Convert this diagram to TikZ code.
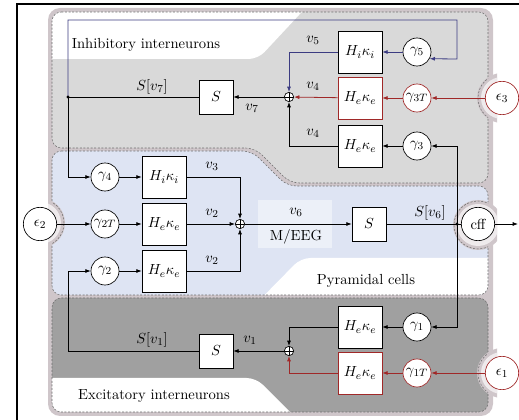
\documentclass[tikz,border=0pt,11pt]{standalone}
\usetikzlibrary{arrows.meta}
\definecolor{redc}{RGB}{160,40,40}
\definecolor{bluec}{RGB}{60,60,130}
\definecolor{topfill}{RGB}{217,217,217}
\definecolor{midfill}{RGB}{222,228,243}
\definecolor{botfill}{RGB}{160,160,160}
\definecolor{bgm}{RGB}{207,198,202}
\definecolor{halo}{RGB}{238,234,236}
\definecolor{dashc}{RGB}{110,110,110}
\begin{document}
\begin{tikzpicture}[x=0.75pt,y=-0.75pt,
  ln/.style={line width=0.6pt},
  arr/.style={line width=0.6pt,-{Latex[length=4pt,width=3pt]}},
  hbox/.style={draw,fill=white,minimum width=33pt,minimum height=31.5pt,inner sep=0pt,line width=0.5pt},
  sbox/.style={draw,fill=white,minimum size=25.5pt,inner sep=0pt,line width=0.5pt},
  gnode/.style={circle,draw,fill=white,minimum size=21pt,inner sep=0pt,line width=0.5pt},
  enode/.style={circle,draw,fill=white,minimum size=25pt,inner sep=0pt,line width=0.5pt},
  sumnode/.style={circle,draw,fill=white,minimum size=7pt,inner sep=0pt,line width=0.5pt,
    path picture={\draw[line width=0.4pt] (path picture bounding box.north) -- (path picture bounding box.south)
      (path picture bounding box.west) -- (path picture bounding box.east);}},
  lab/.style={inner sep=1pt},
  border/.style={draw=dashc,line width=0.4pt,dash pattern=on 1.5pt off 1.2pt},
  toppath/.style={insert path={(52,12) -- (488,12) -- (488,183) -- (290,183) -- (255,148) -- (52,148) -- cycle}},
  midpath/.style={insert path={(52,151) -- (252,151) -- (287,186) -- (488,186) -- (488,295) -- (52,295) -- cycle}},
  botpath/.style={insert path={(52,298) -- (488,298) -- (488,412) -- (52,412) -- cycle}},
  bgpath/.style={insert path={(48,8) rectangle (493,416)}}
]
\useasboundingbox (0,0) rectangle (519,420);
% outer frame
\draw[line width=0.9pt] (17,420) -- (17,4) -- (519,4);
% mauve background
\fill[bgm,rounded corners=9pt,bgpath];
% top region
\fill[topfill,rounded corners=7pt,toppath];
\begin{scope}
  \clip[rounded corners=7pt,toppath];
  \fill[white,rounded corners=7pt] (30,0) -- (313,0) -- (258,59) -- (30,59) -- cycle;
\end{scope}
\path[border,rounded corners=7pt,toppath];
% middle region
\fill[midfill,rounded corners=7pt,midpath];
\begin{scope}
  \clip[rounded corners=7pt,midpath];
  \fill[white,rounded corners=7pt] (301,258) -- (500,258) -- (500,320) -- (240,320) -- cycle;
  \fill[white,opacity=0.45] (258,200) rectangle (332,248);
\end{scope}
\path[border,rounded corners=7pt,midpath];
% bottom region
\fill[botfill,rounded corners=7pt,botpath];
\begin{scope}
  \clip[rounded corners=7pt,botpath];
  \fill[white,rounded corners=7pt] (30,378) -- (256,378) -- (300,422) -- (30,422) -- cycle;
\end{scope}
\path[border,rounded corners=7pt,botpath];
% halos
\begin{scope}
  \clip (48,8) rectangle (497,416);
  \foreach \cx/\cy in {502/98, 40/223, 478/225, 502/373} {
    \fill[bgm] (\cx,\cy) circle[radius=18.75pt];
  }
\end{scope}
\begin{scope}
  \clip[rounded corners=7pt,toppath];
  \draw[border] (502,98) circle[radius=18pt];
\end{scope}
\begin{scope}
  \clip[rounded corners=7pt,midpath];
  \draw[border] (40,223) circle[radius=18pt];
  \draw[border] (478,225) circle[radius=18pt];
\end{scope}
\begin{scope}
  \clip[rounded corners=7pt,botpath];
  \draw[border] (502,373) circle[radius=18pt];
\end{scope}
\begin{scope}
  \clip (48,8) rectangle (497,416);
  \foreach \cx/\cy in {502/98, 40/223, 478/225, 502/373} {
    \fill[halo] (\cx,\cy) circle[radius=15.75pt];
  }
\end{scope}

% ---- nodes: top
\node[gnode] (g5) at (417,52) {$\gamma_5$};
\node[hbox] (hi5) at (360,52) {$H_i\kappa_i$};
\node[enode,draw=redc] (e3) at (502,98) {$\epsilon_3$};
\node[gnode,draw=redc] (g3T) at (417,98) {$\gamma_{3T}$};
\node[hbox,draw=redc] (he3T) at (360,98) {$H_e\kappa_e$};
\node[gnode] (g3) at (417,146) {$\gamma_3$};
\node[hbox] (he3) at (360,146) {$H_e\kappa_e$};
\node[sumnode] (sum7) at (289,97) {};
\node[sbox] (s7) at (216,97) {$S$};
\coordinate (dot7) at (68,97);
% ---- nodes: middle
\node[enode] (e2) at (40,224) {$\epsilon_2$};
\node[gnode] (g4) at (105,177) {$\gamma_4$};
\node[hbox] (hi4) at (164,177) {$H_i\kappa_i$};
\node[gnode] (g2T) at (105,224) {$\gamma_{2T}$};
\node[hbox] (he2T) at (164,224) {$H_e\kappa_e$};
\node[gnode] (g2) at (105,271) {$\gamma_2$};
\node[hbox] (he2) at (164,271) {$H_e\kappa_e$};
\node[sumnode] (sum6) at (240,224) {};
\node[sbox] (s6) at (369,224) {$S$};
\coordinate (dot6) at (457,224);
\node[enode] (cff) at (478,224) {cff};
\coordinate (out) at (518,224);
% ---- nodes: bottom
\node[gnode] (g1) at (417,327) {$\gamma_1$};
\node[hbox] (he1) at (360,327) {$H_e\kappa_e$};
\node[enode,draw=redc] (e1) at (502,373) {$\epsilon_1$};
\node[gnode,draw=redc] (g1T) at (417,373) {$\gamma_{1T}$};
\node[hbox,draw=redc] (he1T) at (360,373) {$H_e\kappa_e$};
\node[sumnode] (sum1) at (289,351) {};
\node[sbox] (s1) at (216,351) {$S$};
\coordinate (c1) at (68,351);

% ---- connectors: top
\draw[arr,bluec] (dot7) -- (68,20) -- (457,20) -- (457,59) -- (g5.-28);
\draw[arr,bluec] (g5) -- (hi5);
\draw[arr,bluec] (hi5.west) -| (sum7.north);
\draw[arr,redc] (e3) -- (g3T);
\draw[arr,redc] (g3T) -- (he3T);
\draw[arr,redc] (he3T) -- (sum7);
\draw[arr] (g3) -- (he3);
\draw[arr] (he3.west) -| (sum7.south);
\draw[arr] (sum7) -- (s7);
\draw[ln] (s7) -- (dot7);
\fill (dot7) circle[radius=1.3pt];
% middle
\draw[arr] (dot7) |- (g4);
\draw[arr] (g4) -- (hi4);
\draw[arr] (hi4.east) -| (sum6.north);
\draw[arr] (e2) -- (g2T);
\draw[arr] (g2T) -- (he2T);
\draw[arr] (he2T) -- (sum6);
\draw[arr] (g2) -- (he2);
\draw[arr] (he2.east) -| (sum6.south);
\draw[arr] (sum6) -- (s6);
\draw[ln] (s6) -- (cff);
\draw[arr] (cff) -- (out);
\draw[arr] (dot6) |- (g3);
\draw[arr] (dot6) |- (g1);
\fill (dot6) circle[radius=1.3pt];
% bottom
\draw[arr] (g1) -- (he1);
\draw[arr] (he1.west) -| (sum1.north);
\draw[arr,redc] (e1) -- (g1T);
\draw[arr,redc] (g1T) -- (he1T);
\draw[arr,redc] (he1T.west) -| (sum1.south);
\draw[arr] (sum1) -- (s1);
\draw[ln] (s1) -- (c1);
\draw[arr] (c1) |- (g2);

% ---- labels
\node[lab] (tInh) at (146,45) {Inhibitory interneurons};
\node[lab] (lSv7) at (152,87) {$S[v_7]$};
\node[lab] (lv5) at (313,40) {$v_5$};
\node[lab] (lv4a) at (313,86) {$v_4$};
\node[lab] (lv7) at (252,108) {$v_7$};
\node[lab] (lv4b) at (313,133) {$v_4$};
\node[lab] (lv3) at (212,166) {$v_3$};
\node[lab] (lv2a) at (212,213) {$v_2$};
\node[lab] (lv2b) at (212,260) {$v_2$};
\node[lab] (lv6) at (296,212) {$v_6$};
\node[lab] (lmeeg) at (296,237) {M/EEG};
\node[lab] (lSv6) at (430,213) {$S[v_6]$};
\node[lab] (tPyr) at (366,281) {Pyramidal cells};
\node[lab] (lSv1) at (152,340) {$S[v_1]$};
\node[lab] (lv1) at (250,340) {$v_1$};
\node[lab] (tExc) at (154,396) {Excitatory interneurons};
\end{tikzpicture}
\end{document}
